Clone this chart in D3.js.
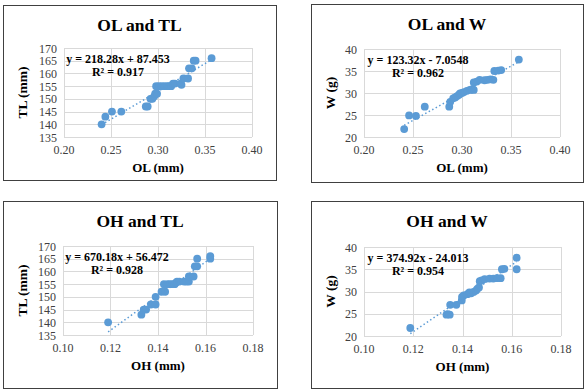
<!DOCTYPE html>
<html>
<head>
<meta charset="utf-8">
<script src="https://cdn.jsdelivr.net/npm/d3@7"></script>
<style>
  body { margin: 0; background: #fff; }
  svg { display: block; font-family: "Liberation Serif", "Times New Roman", serif; }
</style>
</head>
<body>
<div id="chart"></div>
<script>
// points: [x, y]
const olTL = [[0.240,140],[0.244,143],[0.251,145],[0.261,145],[0.287,147],[0.289,147],[0.292,150],[0.294,150],
  [0.296,151],[0.297,152],[0.299,152],[0.298,155],[0.301,155],[0.304,155],[0.307,155],[0.310,155],[0.312,155],
  [0.314,155],[0.316,156],[0.318,156],[0.324,156],[0.325,155.5],[0.327,158],[0.332,158],[0.333,162],[0.336,162],
  [0.338,165],[0.340,165],[0.357,166]];
const olW = [[0.241,21.8],[0.246,24.9],[0.253,24.8],[0.262,26.9],[0.287,26.9],[0.288,28],[0.291,28.8],[0.293,29],
  [0.295,29.3],[0.297,29.6],[0.298,29.9],[0.300,30],[0.302,30.2],[0.305,30.5],[0.308,30.7],[0.310,30.8],[0.312,30.7],
  [0.312,32.4],[0.315,32.6],[0.318,33],[0.323,32.9],[0.326,33],[0.329,33.1],[0.332,33],[0.333,35],[0.337,35.1],
  [0.340,35.2],[0.358,37.6]];
const ohTL = [[0.119,140],[0.133,143],[0.134,145],[0.135,145],[0.137,147],[0.139,147],[0.139,150],[0.1415,152],
  [0.143,152],[0.1425,155],[0.144,155],[0.145,155],[0.146,155],[0.147,155],[0.1475,155.5],[0.148,156],[0.149,156],
  [0.151,156],[0.152,156],[0.153,156],[0.153,158],[0.155,158],[0.1555,162],[0.1565,162],[0.1565,165],[0.162,165],
  [0.162,166]];
const ohW = [[0.1188,21.8],[0.1335,24.8],[0.134,24.9],[0.1348,24.8],[0.135,27],[0.1375,27],[0.1397,28],[0.1398,28.8],
  [0.1405,29.1],[0.142,29.4],[0.1428,29.8],[0.1435,29.6],[0.1445,29.9],[0.1455,30.2],[0.146,30.6],[0.1467,30.9],
  [0.147,32.3],[0.1478,32.5],[0.149,32.8],[0.151,32.9],[0.1525,32.9],[0.154,33],[0.1555,33],[0.156,35],[0.157,35.1],
  [0.162,35],[0.162,37.6]];

const olTicks = [0.20, 0.25, 0.30, 0.35, 0.40];
const ohTicks = [0.10, 0.12, 0.14, 0.16, 0.18];
const tlTicks = [135, 140, 145, 150, 155, 160, 165, 170];
const wTicks = [20, 25, 30, 35, 40];

const titles = ['OL and TL', 'OL and W', 'OH and TL', 'OH and W'];
const xTitles = ['OL (mm)', 'OL (mm)', 'OH (mm)', 'OH (mm)'];
const yTitles = ['TL (mm)', 'W (g)', 'TL (mm)', 'W (g)'];
const slopes = [218.28, 123.32, 670.18, 374.92];
const intercepts = [87.453, -7.0548, 56.472, -24.013];
const equations = ['y = 218.28x + 87.453', 'y = 123.32x - 7.0548', 'y = 670.18x + 56.472', 'y = 374.92x - 24.013'];
const r2 = ['R² = 0.917', 'R² = 0.962', 'R² = 0.928', 'R² = 0.954'];

const series = [olTL, olW, ohTL, ohW];
const xTickSets = [olTicks, olTicks, ohTicks, ohTicks];
const yTickSets = [tlTicks, wTicks, tlTicks, wTicks];

// panel layout (pixel boxes)
const boxes = [
  { x: 3, y: 5, w: 273, h: 175, px: [64, 252], py: [48, 137] },
  { x: 311, y: 4, w: 272, h: 178, px: [364, 560], py: [49, 137] },
  { x: 3, y: 201, w: 274, h: 187, px: [63, 253], py: [246, 335] },
  { x: 311, y: 201, w: 272, h: 187, px: [364, 561], py: [247, 336] }
];

const blue = '#5b9bd5';
const svg = d3.select('#chart').append('svg').attr('width', 588).attr('height', 389);

boxes.forEach((b, i) => {
  const g = svg.append('g');
  const xt = xTickSets[i], yt = yTickSets[i];
  const x = d3.scaleLinear().domain([xt[0], xt[xt.length - 1]]).range(b.px);
  const y = d3.scaleLinear().domain([yt[0], yt[yt.length - 1]]).range([b.py[1], b.py[0]]);

  g.append('rect')
    .attr('x', b.x + 0.5).attr('y', b.y + 0.5)
    .attr('width', b.w).attr('height', b.h)
    .attr('fill', '#fff').attr('stroke', '#404040').attr('stroke-width', 1);

  // gridlines
  g.selectAll('.gx').data(xt).enter().append('line')
    .attr('x1', d => Math.round(x(d)) + 0.5).attr('x2', d => Math.round(x(d)) + 0.5)
    .attr('y1', b.py[0]).attr('y2', b.py[1])
    .attr('stroke', '#d9d9d9');
  g.selectAll('.gy').data(yt).enter().append('line')
    .attr('x1', b.px[0]).attr('x2', b.px[1])
    .attr('y1', d => Math.round(y(d)) + 0.5).attr('y2', d => Math.round(y(d)) + 0.5)
    .attr('stroke', '#d9d9d9');

  // tick labels
  g.selectAll('.tx').data(xt).enter().append('text')
    .attr('x', d => x(d)).attr('y', b.py[1] + 17)
    .attr('text-anchor', 'middle').attr('font-size', 12).attr('fill', '#404040')
    .text(d3.format('.2f'));
  g.selectAll('.ty').data(yt).enter().append('text')
    .attr('x', b.px[0] - 7).attr('y', d => y(d) + 4.5)
    .attr('text-anchor', 'end').attr('font-size', 12).attr('fill', '#404040')
    .text(d => d);

  // titles
  g.append('text')
    .attr('x', b.x + b.w / 2).attr('y', b.y + 26)
    .attr('text-anchor', 'middle').attr('font-size', 17.5).attr('font-weight', 'bold')
    .text(titles[i]);
  g.append('text')
    .attr('x', (b.px[0] + b.px[1]) / 2).attr('y', b.py[1] + 35)
    .attr('text-anchor', 'middle').attr('font-size', 13).attr('font-weight', 'bold')
    .text(xTitles[i]);
  g.append('text')
    .attr('transform', `translate(${b.x + 24}, ${(b.py[0] + b.py[1]) / 2}) rotate(-90)`)
    .attr('text-anchor', 'middle').attr('font-size', 13.5).attr('font-weight', 'bold')
    .text(yTitles[i]);

  // points
  g.selectAll('circle').data(series[i]).enter().append('circle')
    .attr('cx', d => x(d[0])).attr('cy', d => y(d[1]))
    .attr('r', 3.9).attr('fill', blue);

  // trendline over the data range
  const ext = d3.extent(series[i], d => d[0]);
  g.append('line')
    .attr('x1', x(ext[0])).attr('y1', y(slopes[i] * ext[0] + intercepts[i]))
    .attr('x2', x(ext[1])).attr('y2', y(slopes[i] * ext[1] + intercepts[i]))
    .attr('stroke', blue).attr('stroke-width', 1.5)
    .attr('stroke-dasharray', '1.5 2.5');

  // equation label
  const ex = b.px[0] + 54;
  g.append('text')
    .attr('x', ex).attr('y', b.py[0] + 15)
    .attr('text-anchor', 'middle').attr('font-size', 12).attr('font-weight', 'bold')
    .text(equations[i]);
  g.append('text')
    .attr('x', ex).attr('y', b.py[0] + 27.5)
    .attr('text-anchor', 'middle').attr('font-size', 12).attr('font-weight', 'bold')
    .text(r2[i]);
});
</script>
</body>
</html>
